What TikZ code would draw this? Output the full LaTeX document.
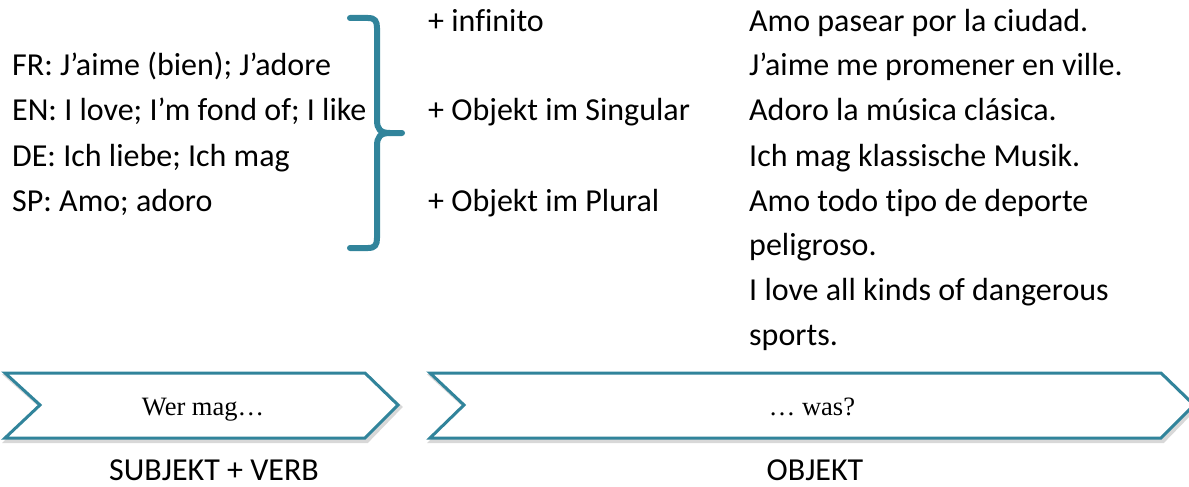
\documentclass[tikz,border=0pt]{standalone}
\usepackage{fontspec}
\setmainfont{Carlito}[Ligatures={NoCommon,NoContextual}]
\newfontfamily\chevfont{Liberation Serif}
\definecolor{teal1}{HTML}{31849B}
\begin{document}
\begin{tikzpicture}[x=1pt,y=-1pt,
  txt/.style={anchor=base west,inner sep=0pt,font=\fontsize{32}{38}\selectfont},
  lbl/.style={anchor=base,inner sep=0pt,font=\fontsize{32}{38}\selectfont},
  chevtxt/.style={anchor=base,inner sep=0pt,font=\chevfont\fontsize{26.5}{30}\selectfont},
  chev/.style={draw=teal1,line width=3pt,line join=miter,fill=white},
  chevshadow/.style={draw=black!30,line width=4pt,opacity=0.5},
  brace/.style={draw=teal1,line width=6pt,line cap=round,line join=round}]
\useasboundingbox (0,0) rectangle (1189,487);
% left column
\node[txt] (fr) at (12,76) {FR: J’aime (bien); J’adore};
\node[txt] (en) at (12,121) {EN: I love; I’m fond of; I like};
\node[txt] (de) at (12,166) {DE: Ich liebe; Ich mag};
\node[txt] (sp) at (12,211) {SP: Amo; adoro};
% brace
\draw[brace] (350,18) -- (368,18) .. controls (375,18) and (377,21) .. (377,28)
  -- (377,120) .. controls (377,129) and (380,133) .. (390,133) -- (402,133);
\draw[brace] (390,133) .. controls (380,133) and (377,137) .. (377,146)
  -- (377,238) .. controls (377,245) and (375,248) .. (368,248) -- (350,248);
% middle column
\node[txt] (inf) at (428,32) {+ infinito};
\node[txt] (sing) at (428,121) {+ Objekt im Singular};
\node[txt] (plu) at (428,211) {+ Objekt im Plural};
% right column
\node[txt] (r1) at (749,32) {Amo pasear por la ciudad.};
\node[txt] (r2) at (749,76) {J’aime me promener en ville.};
\node[txt] (r3) at (749,121) {Adoro la música clásica.};
\node[txt] (r4) at (749,166) {Ich mag klassische Musik.};
\node[txt] (r5) at (749,211) {Amo todo tipo de deporte};
\node[txt] (r6) at (749,255) {peligroso.};
\node[txt] (r7) at (749,300) {I love all kinds of dangerous};
\node[txt] (r8) at (749,345) {sports.};
% chevrons
\draw[chevshadow] (7,376) -- (367,376) -- (400,407) -- (367,441) -- (7,441) -- (42,407) -- cycle;
\draw[chevshadow] (432,376) -- (1163,376) -- (1196,407) -- (1163,441) -- (432,441) -- (466,407) -- cycle;
\draw[chev] (5,373) -- (365,373) -- (398,405) -- (365,438) -- (5,438) -- (40,405) -- cycle;
\draw[chev] (430,373) -- (1161,373) -- (1194,405) -- (1161,438) -- (430,438) -- (464,405) -- cycle;
\node[chevtxt] (wer) at (203,415) {Wer mag…};
\node[chevtxt] (was) at (812,415) {… was?};
\node[lbl] (sv) at (214,480) {SUBJEKT + VERB};
\node[lbl] (obj) at (815,480) {OBJEKT};
\end{tikzpicture}
\end{document}
